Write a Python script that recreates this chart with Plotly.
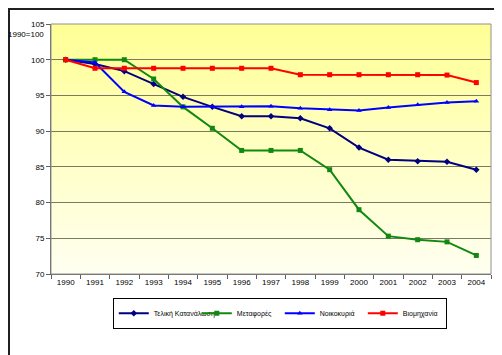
import plotly.graph_objects as go

years = [str(y) for y in range(1990, 2005)]
telikh = [100, 99.4, 98.4, 96.6, 94.8, 93.4, 92.1, 92.1, 91.8, 90.4, 87.7, 86.0, 85.8, 85.7, 84.6]
metafores = [100, 100, 100, 97.3, 93.4, 90.4, 87.3, 87.3, 87.3, 84.6, 79.0, 75.3, 74.8, 74.5, 72.6]
noikokyria = [100, 99.6, 95.5, 93.6, 93.4, 93.4, 93.4, 93.5, 93.2, 93.0, 92.9, 93.3, 93.7, 94.0, 94.2]
viomhxania = [100, 98.8, 98.8, 98.8, 98.8, 98.8, 98.8, 98.8, 97.9, 97.9, 97.9, 97.9, 97.9, 97.85, 96.8]
y_ticks = [70, 75, 80, 85, 90, 95, 100, 105]

series = [
    ("Τελική Κατανάλωση", telikh, "#000080", "diamond"),
    ("Μεταφορές", metafores, "#118811", "square"),
    ("Νοικοκυριά", noikokyria, "#0000FF", "triangle-up"),
    ("Βιομηχανία", viomhxania, "#FF0000", "square"),
]

fig = go.Figure()
for name, vals, col, sym in series:
    fig.add_trace(go.Scatter(
        x=years, y=vals, name=name, mode="lines+markers",
        line=dict(color=col, width=2),
        marker=dict(symbol=sym, size=5, color=col),
    ))

L, R, T, B = 43, 19, 16, 89
W, H = 502, 355
pw, ph = W - L - R, H - T - B

shapes = []
# outer frame
shapes.append(dict(type="rect", xref="paper", yref="paper",
                   x0=(-L + 1) / pw, x1=(W - L - 3) / pw,
                   y0=(-B + 3) / ph, y1=(ph + T - 1) / ph,
                   fillcolor="rgba(0,0,0,0)",
                   line=dict(color="#202020", width=2), layer="above"))
# plot area border
shapes.append(dict(type="rect", xref="paper", yref="paper", x0=0, x1=1, y0=0, y1=1,
                   fillcolor="rgba(0,0,0,0)",
                   line=dict(color="#909090", width=1), layer="above"))
n = 40
top = (255, 255, 150)
bot = (255, 255, 240)
for i in range(n):
    f = i / (n - 1)
    r, g, b = [int(round(bot[k] + (top[k] - bot[k]) * f)) for k in range(3)]
    shapes.append(dict(type="rect", xref="paper", yref="paper",
                       x0=0, x1=1, y0=i / n, y1=min(1.0, (i + 1) / n + 0.003),
                       line=dict(width=0), fillcolor=f"rgb({r},{g},{b})", layer="below"))

fig.update_layout(
    width=W, height=H,
    margin=dict(l=L, r=R, t=T, b=B),
    paper_bgcolor="white",
    plot_bgcolor="rgba(0,0,0,0)",
    font=dict(family="Liberation Sans, Arial, sans-serif", size=8, color="black"),
    shapes=shapes,
    showlegend=True,
    legend=dict(orientation="h", x=0.52, y=-0.095, xanchor="center", yanchor="top",
                bordercolor="black", borderwidth=1, bgcolor="white",
                font=dict(size=7), itemwidth=30, tracegroupgap=0,
                entrywidth=38, entrywidthmode="pixels"),
    annotations=[dict(text="1990=100", xref="paper", yref="paper",
                      x=(38 - L) / pw, y=(266 - 26) / ph, xanchor="right", yanchor="middle",
                      showarrow=False, font=dict(size=8))],
)
fig.update_xaxes(type="category", range=[-0.5, 14.5], showgrid=False,
                 showline=True, linecolor="#606060", linewidth=1,
                 ticks="outside", ticklen=4, tickcolor="#606060", tickson="boundaries",
                 tickfont=dict(size=8))
fig.update_yaxes(range=[70, 105], tickvals=y_ticks, showgrid=True,
                 gridcolor="#7a7a60", gridwidth=1,
                 showline=True, linecolor="#606060", linewidth=1,
                 ticks="outside", ticklen=4, tickcolor="#606060",
                 tickfont=dict(size=8), zeroline=False)

fig.write_html("out.html")
